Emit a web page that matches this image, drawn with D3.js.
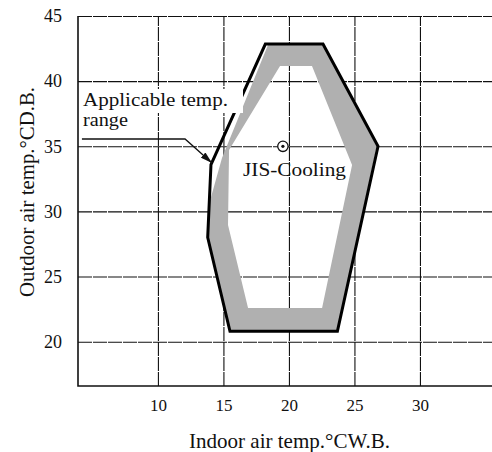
<!DOCTYPE html>
<html>
<head>
<meta charset="utf-8">
<script src="https://cdn.jsdelivr.net/npm/d3@7"></script>
<style>
  html, body { margin: 0; padding: 0; background: #fff; }
  svg { display: block; }
  text { font-family: "Liberation Serif", "Times New Roman", serif; fill: #111; }
</style>
</head>
<body>
<div id="chart"></div>
<script>
// ---- data (temperatures in °C) ----
const xTicks = [10, 15, 20, 25, 30];
const yTicks = [20, 25, 30, 35, 40, 45];
// applicable range outline (indoor W.B., outdoor D.B.)
const rangeX = [15.5, 23.7, 26.8, 22.6, 18.2, 14.05, 13.8];
const rangeY = [20.8, 20.8, 35.0, 42.85, 42.85, 33.6, 28.0];
// shaded band: outer edge
const bandOuterX = [15.5, 23.7, 26.7, 22.6, 18.4, 14.89, 13.89, 13.8];
const bandOuterY = [20.8, 20.8, 35.0, 42.8, 42.78, 34.1, 30.51, 28.0];
// shaded band: inner edge (white core)
const bandInnerX = [19.32, 21.76, 24.82, 22.53, 16.88, 15.35, 15.43];
const bandInnerY = [41.16, 41.16, 33.56, 22.59, 22.59, 28.96, 34.71];
// JIS cooling rating point
const jisPoint = [19.54, 35.0];
const jisLabel = "JIS-Cooling";
const rangeLabel = ["Applicable temp.", "range"];
// leader line from label to outline (data coordinates)
const leaderX = [4.2, 12.07, 14.13];
const leaderY = [35.56, 35.56, 33.71];
const xTitle = "Indoor air temp.\u00B0CW.B.";
const yTitle = "Outdoor air temp.\u00B0CD.B.";

// ---- layout ----
const W = 492, H = 452;
const mL = 78, mR = 492, mT = 16, mB = 386;

const x = d3.scaleLinear().domain([3.9, 35.5]).range([mL, mR]);
const y = d3.scaleLinear().domain([16.6, 45]).range([mB, mT]);

const svg = d3.select("#chart").append("svg")
  .attr("width", W).attr("height", H)
  .attr("viewBox", `0 0 ${W} ${H}`);

const defs = svg.append("defs");
defs.append("marker")
  .attr("id", "arrow").attr("markerUnits", "userSpaceOnUse")
  .attr("viewBox", "0 0 12 7").attr("refX", 12).attr("refY", 3.5)
  .attr("markerWidth", 12).attr("markerHeight", 7).attr("orient", "auto")
  .append("path").attr("d", "M0,0 L12,3.5 L0,7 Z").attr("fill", "#111");

const serif = "Liberation Serif, Times New Roman, serif";

// ---- grid via axes ----
const gridDash = "14,1";
const yAxis = d3.axisLeft(y).tickValues(yTicks)
  .tickSize(-(mR - mL)).tickPadding(16).tickFormat(d3.format("d"));
const gy = svg.append("g").attr("transform", `translate(${mL},0)`).call(yAxis)
  .attr("font-family", serif).attr("font-size", 18);
gy.select(".domain").remove();
gy.selectAll(".tick line").attr("stroke", "#111").attr("stroke-width", 1.1).attr("stroke-dasharray", gridDash);
gy.selectAll(".tick text").attr("fill", "#111");

const xAxis = d3.axisBottom(x).tickValues(xTicks)
  .tickSize(-(mB - mT)).tickPadding(13).tickFormat(d3.format("d"));
const gx = svg.append("g").attr("transform", `translate(0,${mB})`).call(xAxis)
  .attr("font-family", serif).attr("font-size", 17);
gx.select(".domain").remove();
gx.selectAll(".tick line").attr("stroke", "#111").attr("stroke-width", 1.1).attr("stroke-dasharray", gridDash);
gx.selectAll(".tick text").attr("fill", "#111");

// frame: left and bottom
svg.append("path")
  .attr("d", `M${mL},${mT} V${mB} H${mR}`)
  .attr("fill", "none").attr("stroke", "#111").attr("stroke-width", 1.6);

// ---- shaded band ----
const lineGen = d3.line().x(d => x(d[0])).y(d => y(d[1])).curve(d3.curveLinearClosed);
const outerPts = bandOuterX.map((v, i) => [v, bandOuterY[i]]);
const innerPts = bandInnerX.map((v, i) => [v, bandInnerY[i]]);
svg.append("path")
  .attr("d", lineGen(outerPts) + lineGen(innerPts))
  .attr("fill", "#b0b0b0").attr("fill-rule", "evenodd");

// ---- outline ----
const rangePts = rangeX.map((v, i) => [v, rangeY[i]]);
svg.append("path")
  .attr("d", lineGen(rangePts))
  .attr("fill", "none").attr("stroke", "#000").attr("stroke-width", 3)
  .attr("stroke-linejoin", "miter");

// ---- label with white backing ----
svg.append("rect").attr("x", 81).attr("y", 89).attr("width", 162).attr("height", 24).attr("fill", "#fff");
svg.append("rect").attr("x", 81).attr("y", 111).attr("width", 58).attr("height", 20).attr("fill", "#fff");
svg.append("text").attr("x", 83).attr("y", 106).attr("font-size", 19)
  .attr("textLength", 145).attr("lengthAdjust", "spacingAndGlyphs").text(rangeLabel[0]);
svg.append("text").attr("x", 83).attr("y", 126).attr("font-size", 19)
  .attr("textLength", 45).attr("lengthAdjust", "spacingAndGlyphs").text(rangeLabel[1]);

// leader line with arrow
const leaderPts = leaderX.map((v, i) => [v, leaderY[i]]);
svg.append("path")
  .attr("d", d3.line().x(d => x(d[0])).y(d => y(d[1]))(leaderPts))
  .attr("fill", "none").attr("stroke", "#111").attr("stroke-width", 1.3)
  .attr("marker-end", "url(#arrow)");

// ---- JIS point ----
svg.append("circle").attr("cx", x(jisPoint[0])).attr("cy", y(jisPoint[1])).attr("r", 5.2)
  .attr("fill", "#fff").attr("stroke", "#111").attr("stroke-width", 1.3);
svg.append("circle").attr("cx", x(jisPoint[0])).attr("cy", y(jisPoint[1])).attr("r", 1.6)
  .attr("fill", "#111");
svg.append("text").attr("x", 243).attr("y", 176).attr("font-size", 19)
  .attr("textLength", 103).attr("lengthAdjust", "spacingAndGlyphs").text(jisLabel);

// ---- axis titles ----
svg.append("text").attr("x", 289.5).attr("y", 448).attr("font-size", 22)
  .attr("text-anchor", "middle").attr("textLength", 201).attr("lengthAdjust", "spacingAndGlyphs")
  .text(xTitle);
svg.append("text").attr("transform", "translate(34,192) rotate(-90)").attr("font-size", 22)
  .attr("text-anchor", "middle").attr("textLength", 210).attr("lengthAdjust", "spacingAndGlyphs")
  .text(yTitle);
</script>
</body>
</html>
